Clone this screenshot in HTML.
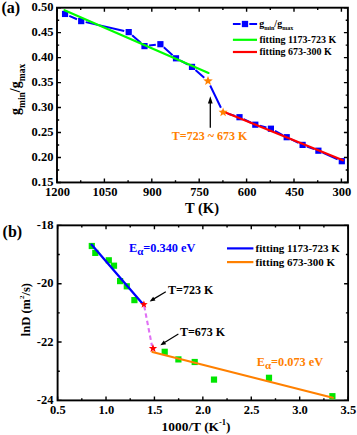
<!DOCTYPE html>
<html><head><meta charset="utf-8"><style>
html,body{margin:0;padding:0;background:#fff;width:357px;height:435px;overflow:hidden}
svg{display:block;font-family:"Liberation Serif", serif;font-weight:bold}
</style></head><body>
<svg width="357" height="435" viewBox="0 0 357 435">
<path d="M57.00,182.45v-4M57.00,7.7v4M80.70,182.45v-2.2M80.70,7.7v2.2M104.40,182.45v-4M104.40,7.7v4M128.10,182.45v-2.2M128.10,7.7v2.2M151.80,182.45v-4M151.80,7.7v4M175.50,182.45v-2.2M175.50,7.7v2.2M199.20,182.45v-4M199.20,7.7v4M222.90,182.45v-2.2M222.90,7.7v2.2M246.60,182.45v-4M246.60,7.7v4M270.30,182.45v-2.2M270.30,7.7v2.2M294.00,182.45v-4M294.00,7.7v4M317.70,182.45v-2.2M317.70,7.7v2.2M341.40,182.45v-4M341.40,7.7v4M57.0,7.70h4M347.9,7.70h-4M57.0,20.18h2.2M347.9,20.18h-2.2M57.0,32.66h4M347.9,32.66h-4M57.0,45.15h2.2M347.9,45.15h-2.2M57.0,57.63h4M347.9,57.63h-4M57.0,70.11h2.2M347.9,70.11h-2.2M57.0,82.59h4M347.9,82.59h-4M57.0,95.08h2.2M347.9,95.08h-2.2M57.0,107.56h4M347.9,107.56h-4M57.0,120.04h2.2M347.9,120.04h-2.2M57.0,132.52h4M347.9,132.52h-4M57.0,145.00h2.2M347.9,145.00h-2.2M57.0,157.49h4M347.9,157.49h-4M57.0,169.97h2.2M347.9,169.97h-2.2M57.0,182.45h4M347.9,182.45h-4" stroke="#000" stroke-width="1.4" fill="none"/>
<rect x="57.0" y="7.7" width="290.90" height="174.75" fill="none" stroke="#000" stroke-width="1.9"/>
<text x="53.4" y="11.40" font-size="12.5" text-anchor="end" fill="#000" >0.50</text>
<text x="53.4" y="36.36" font-size="12.5" text-anchor="end" fill="#000" >0.45</text>
<text x="53.4" y="61.33" font-size="12.5" text-anchor="end" fill="#000" >0.40</text>
<text x="53.4" y="86.29" font-size="12.5" text-anchor="end" fill="#000" >0.35</text>
<text x="53.4" y="111.26" font-size="12.5" text-anchor="end" fill="#000" >0.30</text>
<text x="53.4" y="136.22" font-size="12.5" text-anchor="end" fill="#000" >0.25</text>
<text x="53.4" y="161.19" font-size="12.5" text-anchor="end" fill="#000" >0.20</text>
<text x="53.4" y="186.15" font-size="12.5" text-anchor="end" fill="#000" >0.15</text>
<text x="57.50" y="196.4" font-size="12.5" text-anchor="middle" fill="#000" >1200</text>
<text x="104.90" y="196.4" font-size="12.5" text-anchor="middle" fill="#000" >1050</text>
<text x="152.30" y="196.4" font-size="12.5" text-anchor="middle" fill="#000" >900</text>
<text x="199.70" y="196.4" font-size="12.5" text-anchor="middle" fill="#000" >750</text>
<text x="247.10" y="196.4" font-size="12.5" text-anchor="middle" fill="#000" >600</text>
<text x="294.50" y="196.4" font-size="12.5" text-anchor="middle" fill="#000" >450</text>
<text x="341.90" y="196.4" font-size="12.5" text-anchor="middle" fill="#000" >300</text>
<text x="202" y="212.6" font-size="14.5" text-anchor="middle" fill="#000" >T (K)</text>
<text x="1.5" y="13.1" font-size="16" text-anchor="start" fill="#000" >(a)</text>
<text transform="translate(19.9,115.0) rotate(-90)" font-size="14">g<tspan font-size="9.5" dy="5">min</tspan><tspan dy="-5">/g</tspan><tspan font-size="9.5" dy="5">max</tspan></text>
<path d="M69.26,15.81L76.99,19.24M85.68,22.14L124.22,31.06M132.14,35.15L141.06,43.05M149.07,45.55L155.83,44.75M163.81,47.28L172.59,55.22M180.05,60.48L187.95,64.72M195.45,69.94L204.25,77.69M210.17,85.50L220.93,107.80M227.89,113.73L235.09,115.88M243.66,119.17L251.14,122.73M259.76,125.84L266.44,127.56M274.95,130.88L282.65,135.02M290.84,139.20L298.46,142.90M306.92,146.49L314.08,149.11M322.60,152.58L337.60,159.32" fill="none" stroke="#0000FF" stroke-width="2"/>
<rect x="61.95" y="10.85" width="6.2" height="6.2" fill="#0000FF"/>
<rect x="78.10" y="18.00" width="6.2" height="6.2" fill="#0000FF"/>
<rect x="125.60" y="29.00" width="6.2" height="6.2" fill="#0000FF"/>
<rect x="141.40" y="43.00" width="6.2" height="6.2" fill="#0000FF"/>
<rect x="157.30" y="41.10" width="6.2" height="6.2" fill="#0000FF"/>
<rect x="172.90" y="55.20" width="6.2" height="6.2" fill="#0000FF"/>
<rect x="188.90" y="63.80" width="6.2" height="6.2" fill="#0000FF"/>
<rect x="236.40" y="114.10" width="6.2" height="6.2" fill="#0000FF"/>
<rect x="252.20" y="121.60" width="6.2" height="6.2" fill="#0000FF"/>
<rect x="267.80" y="125.60" width="6.2" height="6.2" fill="#0000FF"/>
<rect x="283.60" y="134.10" width="6.2" height="6.2" fill="#0000FF"/>
<rect x="299.50" y="141.80" width="6.2" height="6.2" fill="#0000FF"/>
<rect x="315.30" y="147.60" width="6.2" height="6.2" fill="#0000FF"/>
<rect x="338.70" y="158.10" width="6.2" height="6.2" fill="#0000FF"/>
<line x1="64.5" y1="10.25" x2="208.5" y2="72.95" stroke="#00FF00" stroke-width="2.2" stroke-linecap="round"/>
<line x1="222.5" y1="111.2" x2="342.9" y2="160.3" stroke="#FF0000" stroke-width="2.2" stroke-linecap="round"/>
<polygon points="208.00,76.00 209.23,79.30 212.76,79.45 210.00,81.65 210.94,85.05 208.00,83.10 205.06,85.05 206.00,81.65 203.24,79.45 206.77,79.30" fill="#FF8000"/>
<polygon points="223.10,107.50 224.28,110.67 227.67,110.82 225.02,112.92 225.92,116.18 223.10,114.32 220.28,116.18 221.18,112.92 218.53,110.82 221.92,110.67" fill="#FF8000"/>
<line x1="210.3" y1="127.8" x2="210.3" y2="101" stroke="#000" stroke-width="1.3"/>
<polygon points="210.3,96.2 207.9,103.4 212.7,103.4" fill="#000"/>
<text x="171.8" y="139.5" font-size="12" text-anchor="start" fill="#FF8000" >T=723 ~ 673 K</text>
<path d="M232.9,24.1H240.6M249.3,24.1H257.1" stroke="#0000FF" stroke-width="2"/>
<rect x="241.85" y="20.85" width="6.3" height="6.3" fill="#0000FF"/>
<text x="259.2" y="27.4" font-size="10">g<tspan font-size="6.1" dy="3">min</tspan><tspan dy="-3">/g</tspan><tspan font-size="6.1" dy="3">max</tspan></text>
<line x1="232.9" y1="39.8" x2="257" y2="39.8" stroke="#00FF00" stroke-width="2.2"/>
<text x="259.5" y="43.3" font-size="10" text-anchor="start" fill="#000" >fitting 1173-723 K</text>
<line x1="232.9" y1="52.0" x2="257" y2="52.0" stroke="#FF0000" stroke-width="2.2"/>
<text x="259.5" y="55.3" font-size="10" text-anchor="start" fill="#000" >fitting 673-300 K</text>
<path d="M57.60,400.4v-4M57.60,225.35v4M81.81,400.4v-2.2M81.81,225.35v2.2M106.02,400.4v-4M106.02,225.35v4M130.22,400.4v-2.2M130.22,225.35v2.2M154.43,400.4v-4M154.43,225.35v4M178.64,400.4v-2.2M178.64,225.35v2.2M202.85,400.4v-4M202.85,225.35v4M227.06,400.4v-2.2M227.06,225.35v2.2M251.27,400.4v-4M251.27,225.35v4M275.48,400.4v-2.2M275.48,225.35v2.2M299.68,400.4v-4M299.68,225.35v4M323.89,400.4v-2.2M323.89,225.35v2.2M348.10,400.4v-4M348.10,225.35v4M57.6,225.35h4M348.1,225.35h-4M57.6,254.52h2.2M348.1,254.52h-2.2M57.6,283.70h4M348.1,283.70h-4M57.6,312.88h2.2M348.1,312.88h-2.2M57.6,342.05h4M348.1,342.05h-4M57.6,371.22h2.2M348.1,371.22h-2.2M57.6,400.40h4M348.1,400.40h-4" stroke="#000" stroke-width="1.4" fill="none"/>
<rect x="57.6" y="225.35" width="290.50" height="175.05" fill="none" stroke="#000" stroke-width="1.9"/>
<text x="53.4" y="229.05" font-size="12.5" text-anchor="end" fill="#000" >-18</text>
<text x="53.4" y="287.40" font-size="12.5" text-anchor="end" fill="#000" >-20</text>
<text x="53.4" y="345.75" font-size="12.5" text-anchor="end" fill="#000" >-22</text>
<text x="53.4" y="404.10" font-size="12.5" text-anchor="end" fill="#000" >-24</text>
<text x="57.90" y="414.4" font-size="12.5" text-anchor="middle" fill="#000" >0.5</text>
<text x="106.32" y="414.4" font-size="12.5" text-anchor="middle" fill="#000" >1.0</text>
<text x="154.73" y="414.4" font-size="12.5" text-anchor="middle" fill="#000" >1.5</text>
<text x="203.15" y="414.4" font-size="12.5" text-anchor="middle" fill="#000" >2.0</text>
<text x="251.57" y="414.4" font-size="12.5" text-anchor="middle" fill="#000" >2.5</text>
<text x="299.98" y="414.4" font-size="12.5" text-anchor="middle" fill="#000" >3.0</text>
<text x="348.40" y="414.4" font-size="12.5" text-anchor="middle" fill="#000" >3.5</text>
<text x="196.1" y="430.8" font-size="13.4" text-anchor="middle" fill="#000" >1000/T (K<tspan font-size="8.5" dy="-5.5">-1</tspan><tspan dy="5.5">)</tspan></text>
<text x="2.6" y="237.2" font-size="16" text-anchor="start" fill="#000" >(b)</text>
<text transform="translate(30.4,336.2) rotate(-90)" font-size="12.5">lnD (m<tspan font-size="7" dy="-6.5">2</tspan><tspan dy="6.5">/s)</tspan></text>
<rect x="88.70" y="242.90" width="6.2" height="6.2" fill="#00E600"/>
<rect x="92.20" y="249.80" width="6.2" height="6.2" fill="#00E600"/>
<rect x="105.70" y="257.20" width="6.2" height="6.2" fill="#00E600"/>
<rect x="110.90" y="262.60" width="6.2" height="6.2" fill="#00E600"/>
<rect x="117.00" y="278.00" width="6.2" height="6.2" fill="#00E600"/>
<rect x="123.70" y="283.20" width="6.2" height="6.2" fill="#00E600"/>
<rect x="131.30" y="297.00" width="6.2" height="6.2" fill="#00E600"/>
<rect x="161.60" y="348.70" width="6.2" height="6.2" fill="#00E600"/>
<rect x="175.30" y="356.30" width="6.2" height="6.2" fill="#00E600"/>
<rect x="191.60" y="358.90" width="6.2" height="6.2" fill="#00E600"/>
<rect x="210.90" y="376.50" width="6.2" height="6.2" fill="#00E600"/>
<rect x="265.90" y="374.70" width="6.2" height="6.2" fill="#00E600"/>
<rect x="329.30" y="393.10" width="6.2" height="6.2" fill="#00E600"/>
<line x1="91.5" y1="244.6" x2="143.7" y2="305" stroke="#0000FF" stroke-width="2.3" stroke-linecap="round"/>
<line x1="152.4" y1="352.0" x2="332.8" y2="397.7" stroke="#FF8000" stroke-width="2.2" stroke-linecap="round"/>
<line x1="144.2" y1="306" x2="152.0" y2="346" stroke="#E070F4" stroke-width="2.1" stroke-dasharray="4.5,3"/>
<polygon points="143.90,300.40 144.89,303.04 147.70,303.16 145.50,304.92 146.25,307.64 143.90,306.08 141.55,307.64 142.30,304.92 140.10,303.16 142.91,303.04" fill="#FF0000"/>
<polygon points="153.00,344.00 154.09,346.90 157.18,347.04 154.76,348.97 155.59,351.96 153.00,350.25 150.41,351.96 151.24,348.97 148.82,347.04 151.91,346.90" fill="#FF0000"/>
<line x1="165.8" y1="291.8" x2="153.47" y2="299.11" stroke="#000" stroke-width="1.2"/><polygon points="149.6,301.4 153.21,296.70 155.45,300.49" fill="#000"/>
<line x1="178.4" y1="333.9" x2="164.12" y2="342.82" stroke="#000" stroke-width="1.2"/><polygon points="160.3,345.2 163.80,340.42 166.13,344.15" fill="#000"/>
<text x="168.1" y="293.6" font-size="12" text-anchor="start" fill="#000" >T=723 K</text>
<text x="179.9" y="336.4" font-size="12" text-anchor="start" fill="#000" >T=673 K</text>
<text x="129" y="251.9" font-size="12.3" fill="#0000FF">E<tspan font-size="11" dy="2.8">&#945;</tspan><tspan dy="-2.8">=0.340 eV</tspan></text>
<text x="256.7" y="365.8" font-size="12.3" fill="#FF8000">E<tspan font-size="11" dy="2.8">&#945;</tspan><tspan dy="-2.8">=0.073 eV</tspan></text>
<line x1="227" y1="248.4" x2="253.4" y2="248.4" stroke="#0000FF" stroke-width="2.2"/>
<text x="255.6" y="251.8" font-size="11" text-anchor="start" fill="#000" >fitting 1173-723 K</text>
<line x1="227" y1="262.1" x2="253.4" y2="262.1" stroke="#FF8000" stroke-width="2.2"/>
<text x="255.6" y="265.6" font-size="11" text-anchor="start" fill="#000" >fitting 673-300 K</text>
</svg>
</body></html>
